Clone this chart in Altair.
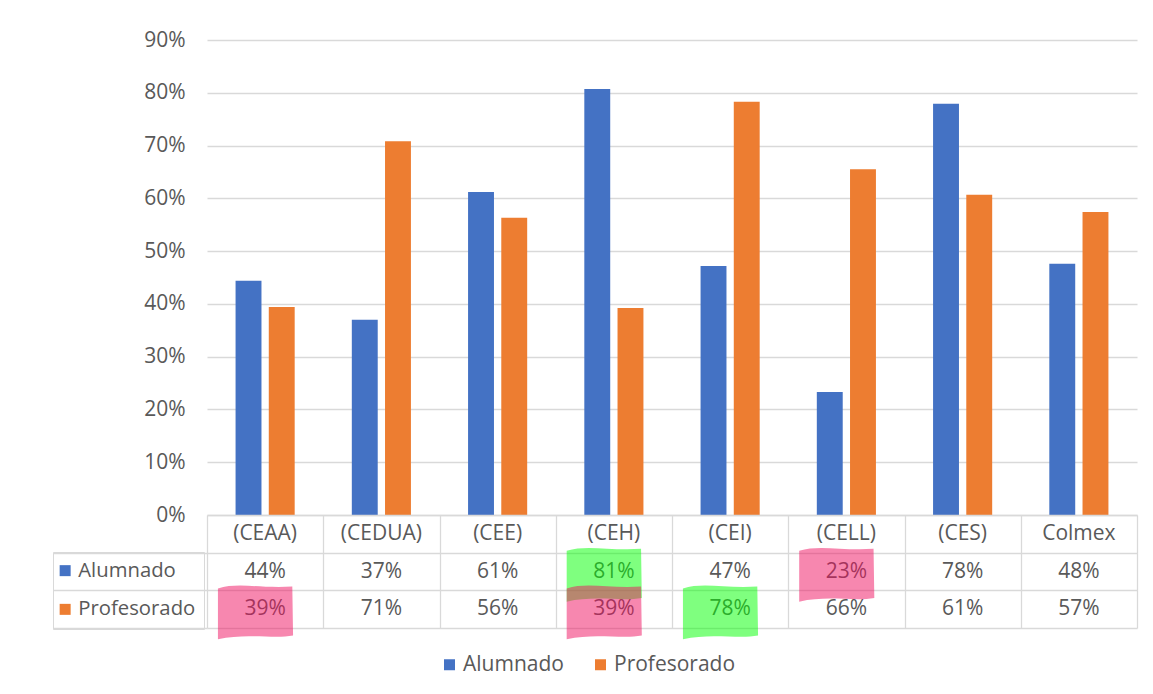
import altair as alt
import pandas as pd

categories = ["(CEAA)", "(CEDUA)", "(CEE)", "(CEH)", "(CEI)", "(CELL)", "(CES)", "Colmex"]
series = ["Alumnado", "Profesorado"]
alumnado = [0.444, 0.370, 0.612, 0.807, 0.472, 0.233, 0.779, 0.476]
profesorado = [0.394, 0.708, 0.563, 0.392, 0.783, 0.655, 0.607, 0.574]
y_ticks = [0.0, 0.1, 0.2, 0.3, 0.4, 0.5, 0.6, 0.7, 0.8, 0.9]

# highlighted table cells (hand-drawn marks in the original)
hl_categories = ["(CEAA)", "(CEH)", "(CEH)", "(CEI)", "(CELL)"]
hl_rows = ["Profesorado", "Alumnado", "Profesorado", "Profesorado", "Alumnado"]
hl_colors = ["#ef1060", "#00ff00", "#ef1060", "#00ff00", "#ef1060"]

BLUE = "#4472C4"
ORANGE = "#ED7D31"
GRID = "#d9d9d9"
TEXT = "#595959"
FONT = "Open Sans"
FS = 21

rows = []
for c, a, p in zip(categories, alumnado, profesorado):
    rows.append({"category": c, "serie": "Alumnado", "row": "Alumnado", "value": a})
    rows.append({"category": c, "serie": "Profesorado", "row": "Profesorado", "value": p})
df = pd.DataFrame(rows)

trows = []
for c, a, p in zip(categories, alumnado, profesorado):
    trows.append({"category": c, "row": "header", "label": c})
    trows.append({"category": c, "row": "Alumnado", "label": f"{round(a * 100)}%"})
    trows.append({"category": c, "row": "Profesorado", "label": f"{round(p * 100)}%"})
tdf = pd.DataFrame(trows)
row_order = ["header", "Alumnado", "Profesorado"]

hdf = pd.DataFrame({"category": hl_categories, "row": hl_rows, "hcolor": hl_colors})

x_enc = alt.X("category:N", sort=categories,
              scale=alt.Scale(paddingInner=0, paddingOuter=0), axis=None)

top = alt.Chart(df).mark_bar().encode(
    x=x_enc,
    xOffset=alt.XOffset("serie:N", sort=series,
                        scale=alt.Scale(paddingInner=0.22, paddingOuter=0.86)),
    y=alt.Y("value:Q", scale=alt.Scale(domain=[0, 0.9], nice=False),
            axis=alt.Axis(values=y_ticks, format=".0%", title=None, grid=True,
                          gridColor=GRID, gridWidth=1.3, domain=False, ticks=False,
                          labelPadding=22, labelFontSize=FS, labelColor=TEXT,
                          labelFont=FONT)),
    color=alt.Color("serie:N", sort=series,
                    scale=alt.Scale(domain=series, range=[BLUE, ORANGE]),
                    legend=alt.Legend(orient="none", direction="horizontal",
                                      legendX=232, legendY=614, title=None,
                                      padding=0, columnPadding=26, labelOffset=3,
                                      symbolType="square", symbolSize=121,
                                      symbolStrokeWidth=0, labelFontSize=FS,
                                      labelColor=TEXT, labelFont=FONT)),
).properties(width=930, height=475)

x_tab = alt.X("category:N", sort=categories,
              scale=alt.Scale(paddingInner=0, paddingOuter=0),
              axis=alt.Axis(labels=False, ticks=False, domain=False, title=None,
                            grid=True, gridColor=GRID, gridWidth=1.3, tickBand="extent"))
y_tab = alt.Y("row:N", sort=row_order,
              scale=alt.Scale(domain=row_order, paddingInner=0, paddingOuter=0),
              axis=alt.Axis(labels=False, domain=False, title=None, ticks=True,
                            tickSize=154,
                            tickColor={"condition": {"test": "datum.extra || datum.index < 0 || !isValid(datum.value)",
                                                     "value": "transparent"},
                                       "value": GRID},
                            tickWidth=1.3, tickBand="extent",
                            grid=True, gridColor=GRID, gridWidth=1.3))

table_text = alt.Chart(tdf).mark_text(fontSize=FS, color=TEXT, font=FONT).encode(
    x=x_tab, y=y_tab, text="label:N")

legend_layer = alt.Chart(df).mark_square(opacity=0).encode(
    x=x_tab,
    y=y_tab,
    color=alt.Color("serie:N", sort=series,
                    scale=alt.Scale(domain=series, range=[BLUE, ORANGE]),
                    legend=alt.Legend(orient="none", direction="vertical",
                                      legendX=-154, legendY=37, title=None,
                                      padding=8.5, rowPadding=17.7, labelOffset=3,
                                      symbolOffset=-6.5,
                                      strokeColor=GRID, symbolType="square",
                                      symbolSize=121, symbolOpacity=1,
                                      symbolStrokeWidth=0, labelFontSize=20.3,
                                      labelColor=TEXT, labelFont=FONT)),
)

blob = "M-1.25,-0.55 C-0.7,-0.72 -0.1,-0.54 0.72,-0.6 L0.74,0.7 C0.2,0.8 -0.5,0.62 -1.25,0.8 Z"
highlights = alt.Chart(hdf).mark_point(shape=blob, size=5700, filled=True,
                                       fillOpacity=0.5, strokeOpacity=0).encode(
    x=x_tab, y=y_tab, fill=alt.Fill("hcolor:N", scale=None))

bottom = alt.layer(table_text, legend_layer, highlights).properties(width=930, height=113)

chart = alt.vconcat(top, bottom, spacing=0, bounds="flush").resolve_scale(
    color="independent").resolve_legend(color="independent").properties(
    padding={"left": 43, "top": 20, "right": 5, "bottom": 5}
).configure(font=FONT).configure_view(stroke="transparent")

chart.save("out.html", embed_options={"renderer": "svg", "actions": False})
